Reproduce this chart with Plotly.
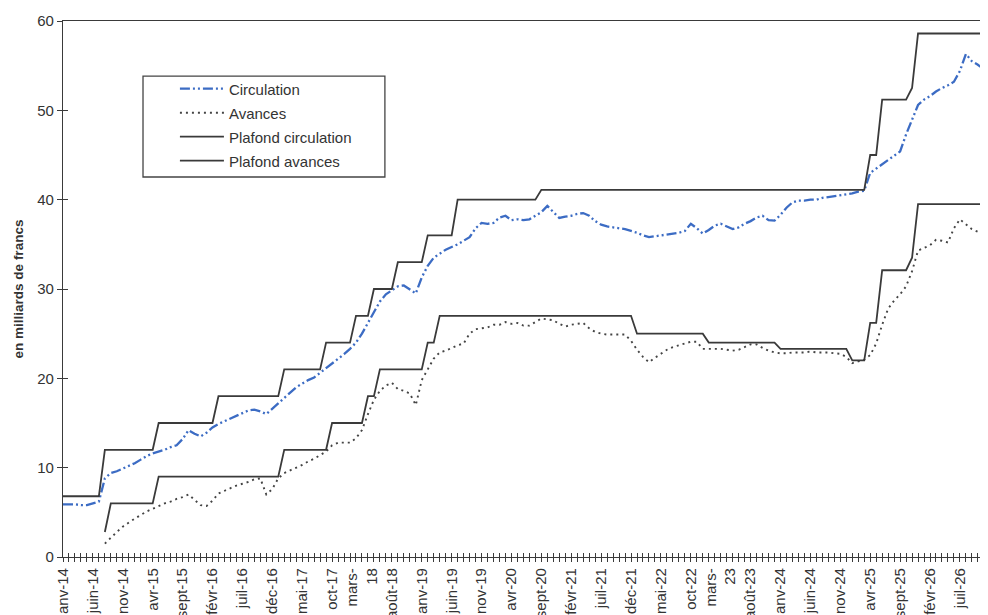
import plotly.graph_objects as go

# ---------------- data (milliards de francs, monthly from janv-14) ----------------
circulation = [
    5.9, 5.9, 5.9, 5.8, 5.8, 6.0, 6.2, 8.8, 9.4, 9.6,
    9.9, 10.2, 10.5, 10.9, 11.3, 11.6, 11.8, 12.0, 12.3, 12.5,
    13.2, 14.2, 13.8, 13.5, 13.9, 14.5, 14.9, 15.2, 15.5, 15.8,
    16.1, 16.4, 16.5, 16.3, 16.0, 16.6, 17.3, 17.9, 18.5, 19.0,
    19.4, 19.8, 20.1, 20.6, 21.1, 21.7, 22.1, 22.7, 23.3, 24.0,
    25.0, 26.2, 27.4, 28.6, 29.4, 29.9, 30.3, 30.4, 29.9, 29.5,
    31.3, 32.6, 33.5, 34.0, 34.4, 34.7, 35.0, 35.4, 35.8, 36.8,
    37.4, 37.3, 37.4, 38.0, 38.2, 37.7, 37.8, 37.7, 37.8, 38.2,
    38.6, 39.3, 38.6, 37.95, 38.1, 38.2, 38.4, 38.5, 38.2, 37.6,
    37.2, 37.0, 36.9, 36.8, 36.7, 36.5, 36.3, 36.0, 35.8, 35.9,
    36.0, 36.1, 36.2, 36.3, 36.5, 37.3, 36.8, 36.2, 36.6, 37.1,
    37.3, 37.0, 36.7, 36.9, 37.3, 37.6, 38.0, 38.2, 37.7, 37.65,
    38.3, 39.1, 39.7, 39.9, 39.9, 40.0, 40.0, 40.2, 40.3, 40.4,
    40.5, 40.6, 40.7, 40.9, 41.0, 43.0, 43.5, 44.0, 44.5, 45.0,
    45.4, 47.3, 49.0, 50.6, 51.2, 51.6, 52.1, 52.5, 52.8, 53.2,
    54.4, 56.3, 55.5, 55.1, 54.6, 54.2,
]

avances_start = 7  # août-14
avances = [
    1.5, 2.2, 2.8,
    3.4, 3.9, 4.3, 4.7, 5.1, 5.4, 5.7, 6.0, 6.2, 6.5,
    6.7, 7.0, 6.4, 5.8, 5.7, 6.3, 7.1, 7.4, 7.7, 8.0,
    8.2, 8.4, 8.7, 8.8, 7.0, 7.6, 8.8, 9.4, 9.7, 10.0,
    10.3, 10.7, 11.0, 11.4, 11.8, 12.5, 12.8, 12.8, 12.8, 13.3,
    14.2, 16.0, 17.6, 18.6, 19.2, 19.5, 18.8, 18.6, 18.3, 17.0,
    19.8, 21.0, 22.2, 22.9, 23.1, 23.4, 23.7, 23.9, 25.0, 25.5,
    25.6, 25.7, 26.0, 26.0, 26.3, 26.1, 26.2, 25.9, 25.9, 26.3,
    26.7, 26.6, 26.5, 26.1, 25.8, 26.0, 26.1, 26.2, 25.6, 25.2,
    25.0, 24.9, 24.9, 24.9, 24.9, 24.2, 23.2, 22.4, 21.8, 22.3,
    22.8, 23.2, 23.5, 23.7, 23.9, 24.1, 24.1, 23.3, 23.3, 23.3,
    23.3, 23.2, 23.1, 23.2, 23.5, 23.8, 23.8, 23.4, 23.1, 22.9,
    22.8, 22.8, 22.9, 22.9, 22.9, 23.0, 22.9, 22.9, 22.9, 22.8,
    22.75, 22.4, 21.7, 21.9, 22.1, 22.6, 23.9, 26.0, 27.8, 28.7,
    29.4, 30.3, 32.0, 34.3, 34.6, 34.9, 35.5, 35.4, 35.2, 36.8,
    37.8, 37.2, 36.7, 36.4, 36.2, 36.1,
]

# ceilings: (month index, value) at each end of every flat level
plafond_circ_months = [0, 6, 7, 15, 16, 25, 26, 36, 37, 43, 44, 48, 49, 51, 52, 55,
                       56, 60, 61, 65, 66, 79, 80, 134, 135, 136, 137, 141, 142, 143, 155]
plafond_circ_values = [6.8, 6.8, 12, 12, 15, 15, 18, 18, 21, 21, 24, 24, 27, 27, 30, 30,
                       33, 33, 36, 36, 40, 40, 41.1, 41.1, 45, 45, 51.2, 51.2, 52.5, 58.6, 58.6]

plafond_av_months = [7, 8, 15, 16, 36, 37, 44, 45, 50, 51, 52, 53, 60, 61, 62, 63, 95,
                     96, 107, 108, 119, 120, 131, 132, 134, 135, 136, 137, 141, 142, 143, 155]
plafond_av_values = [2.8, 6, 6, 9, 9, 12, 12, 15, 15, 18, 18, 21, 21, 24, 24, 27, 27,
                     25, 25, 24, 24, 23.3, 23.3, 22, 22, 26.2, 26.2, 32.1, 32.1, 33.5, 39.5, 39.5]

tick_months = list(range(0, 156, 5))
tick_labels = ["janv-14", "juin-14", "nov-14", "avr-15", "sept-15", "févr-16", "juil-16",
               "déc-16", "mai-17", "oct-17", "mars-<br>18", "août-18", "janv-19", "juin-19",
               "nov-19", "avr-20", "sept-20", "févr-21", "juil-21", "déc-21", "mai-22",
               "oct-22", "mars-<br>23", "août-23", "janv-24", "juin-24", "nov-24", "avr-25",
               "sept-25", "févr-26", "juil-26", "déc-26"]

y_ticks = [0, 10, 20, 30, 40, 50, 60]

# ---------------- figure ----------------
FONT = "Liberation Sans, Arial, sans-serif"
INK = "#3a3a3a"
BLUE = "#3c6cc4"

fig = go.Figure()
fig.add_trace(go.Scatter(
    x=list(range(len(circulation))), y=circulation, mode="lines", name="Circulation",
    legendgroup="a",
    line=dict(color=BLUE, width=2.3, dash="10px,3px,2px,3px,2px,3px")))
fig.add_trace(go.Scatter(
    x=list(range(avances_start, avances_start + len(avances))), y=avances, mode="lines",
    name="Avances", legendgroup="b",
    line=dict(color="#444444", width=1.9, dash="2px,4px")))
fig.add_trace(go.Scatter(
    x=plafond_circ_months, y=plafond_circ_values, mode="lines", name="Plafond circulation",
    legendgroup="c", line=dict(color=INK, width=1.8)))
fig.add_trace(go.Scatter(
    x=plafond_av_months, y=plafond_av_values, mode="lines", name="Plafond avances",
    legendgroup="d", line=dict(color=INK, width=1.8)))
# invisible trace to carry the overlay axes (inner half of the crossing tick marks)
fig.add_trace(go.Scatter(x=[0], y=[0], xaxis="x2", yaxis="y2", mode="markers",
                         marker=dict(opacity=0), showlegend=False, hoverinfo="skip"))

XR = [0, 154.7]
fig.update_layout(
    width=980, height=607,
    margin=dict(l=55, r=0, t=13, b=58),
    paper_bgcolor="white", plot_bgcolor="white",
    font=dict(family=FONT, size=15, color="#333333"),
    showlegend=True,
    legend=dict(x=0.121, y=0.904, xanchor="left", yanchor="top",
                bgcolor="rgba(0,0,0,0)", borderwidth=0, tracegroupgap=1.5,
                font=dict(family=FONT, size=15, color="#333333"), itemwidth=44),
    xaxis=dict(range=XR, tickmode="array", tickvals=tick_months, ticktext=tick_labels,
               tickangle=-90, ticks="outside", ticklen=4, tickcolor=INK, tickwidth=1,
               minor=dict(tickmode="linear", tick0=0, dtick=1, ticks="outside",
                          ticklen=4, tickcolor=INK, tickwidth=1),
               showline=True, linecolor=INK, linewidth=1.3, mirror=True,
               showgrid=False, zeroline=False, automargin=False,
               tickfont=dict(family=FONT, size=15, color="#333333")),
    xaxis2=dict(range=XR, overlaying="x", anchor="y2", side="bottom",
                tickmode="linear", tick0=0, dtick=1, ticks="inside", ticklen=4,
                tickcolor=INK, tickwidth=1, showticklabels=False, showline=False,
                showgrid=False, zeroline=False),
    yaxis=dict(range=[0, 60], tickmode="array", tickvals=y_ticks, ticks="outside",
               ticklen=5, tickcolor=INK, tickwidth=1.2,
               showline=True, linecolor=INK, linewidth=1.3,
               showgrid=False, zeroline=False, automargin=False,
               tickfont=dict(family=FONT, size=15, color="#333333"),
               title=dict(text="<b>en milliards de francs</b>", standoff=10,
                          font=dict(family=FONT, size=13.5, color="#333333"))),
    yaxis2=dict(range=[0, 60], overlaying="y", anchor="x2", side="left",
                tickmode="array", tickvals=y_ticks, ticks="inside", ticklen=5,
                tickcolor=INK, tickwidth=1.2, showticklabels=False, showline=False,
                showgrid=False, zeroline=False),
    shapes=[dict(type="rect", xref="paper", yref="paper",
                 x0=0.0865, x1=0.348, y0=0.709, y1=0.897,
                 line=dict(color="#444444", width=1.3), fillcolor="rgba(0,0,0,0)")],
)

fig.write_html("out.html")
